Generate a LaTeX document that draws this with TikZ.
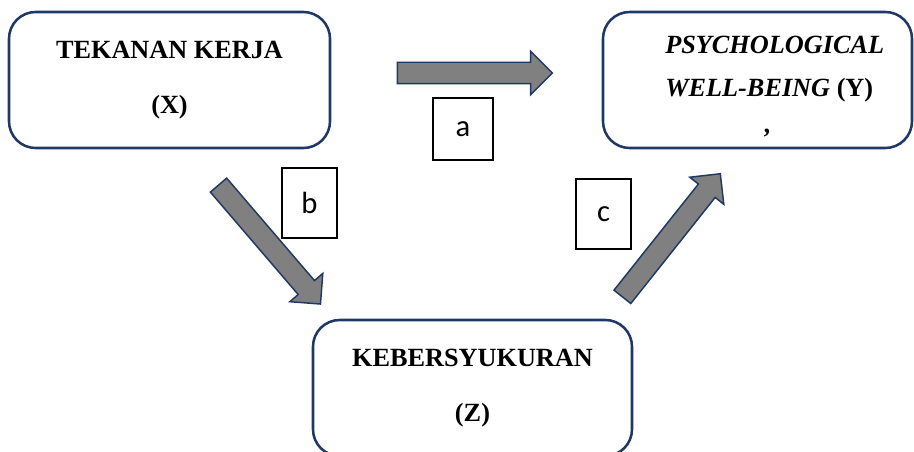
\documentclass[tikz,border=0pt]{standalone}
\usepackage{fontspec}
\setmainfont{Liberation Serif}
\newfontfamily\lblfont{Carlito}
\usetikzlibrary{shapes.arrows}
\definecolor{boxnavy}{RGB}{32,56,100}
\definecolor{arrowgray}{RGB}{128,128,128}
\begin{document}
\begin{tikzpicture}[x=0.75pt,y=-0.75pt,
  varbox/.style={draw=boxnavy,line width=1.9pt,rounded corners=20pt,align=center,
    font=\fontsize{19.7}{41}\selectfont\bfseries},
  lblbox/.style={draw=black,line width=1.1pt,font=\lblfont\fontsize{23}{27}\selectfont},
  blockarrow/.style={single arrow,draw=boxnavy,fill=arrowgray,line width=1.1pt,
    inner xsep=0pt,inner ysep=7.5pt,single arrow head extend=8.25pt}]
\clip (0,0) rectangle (914,452);
\node[varbox,minimum width=240.75pt,minimum height=102pt] (X) at (169.5,80) {TEKANAN KERJA\\(X)};
\node[varbox,minimum width=231.75pt,minimum height=102pt] (Y) at (757.5,80) {};
\node[anchor=north west,inner sep=0pt,align=left,font=\fontsize{19.7}{32}\selectfont\bfseries] (Ytext) at (665,36)
  {\textit{PSYCHOLOGICAL}\\\textit{WELL-BEING} (Y)\\[6pt]\hspace*{72pt}\textit{'}};
\node[varbox,minimum width=239.25pt,minimum height=102pt] (Z) at (472.5,388) {KEBERSYUKURAN\\(Z)};
\node[blockarrow,minimum height=116.25pt] (XY) at (469.5,73) {};
\node[blockarrow,minimum height=117.5pt,rotate=-49.4] (XZ) at (266,240.5) {};
\node[blockarrow,minimum height=118pt,rotate=51.5] (ZY) at (668,239.5) {};
\node[lblbox,minimum width=45pt,minimum height=46.5pt] (la) at (463,129) {a};
\node[lblbox,minimum width=41.25pt,minimum height=52.5pt] (lb) at (309.5,203) {b};
\node[lblbox,minimum width=41.25pt,minimum height=52.5pt] (lc) at (603.5,214) {c};
\end{tikzpicture}
\end{document}
